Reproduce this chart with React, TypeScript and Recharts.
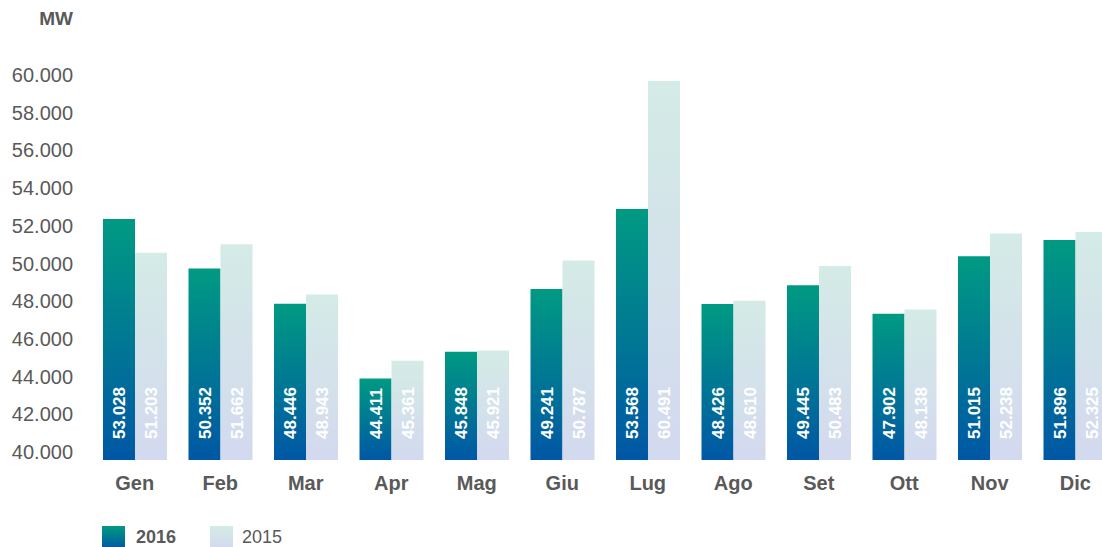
import { BarChart, Bar, XAxis, YAxis, LabelList } from "recharts";

const months = ["Gen", "Feb", "Mar", "Apr", "Mag", "Giu", "Lug", "Ago", "Set", "Ott", "Nov", "Dic"];
const mw2016 = [53028, 50352, 48446, 44411, 45848, 49241, 53568, 48426, 49445, 47902, 51015, 51896];
const mw2015 = [51203, 51662, 48943, 45361, 45921, 50787, 60491, 48610, 50483, 48138, 52238, 52325];
const yTicks = [40000, 42000, 44000, 46000, 48000, 50000, 52000, 54000, 56000, 58000, 60000];

const data = months.map((m, i) => ({ month: m, y2016: mw2016[i], y2015: mw2015[i] }));

const FONT = "'Liberation Sans', Arial, sans-serif";
const GREY = "#595959";

const fmt = (v: number) => String(v).replace(/\B(?=(\d{3})+(?!\d))/g, ".");

const YTick = (props: any) => {
  const { x, y, payload, index } = props;
  // tick labels sit a bit above their value in the original
  const dy = -8 - 0.7 * index + 7;
  return (
    <text x={x} y={y} dy={dy} textAnchor="end" fontSize={20} fill={GREY} fontFamily={FONT}>
      {fmt(payload.value)}
    </text>
  );
};

const XTick = (props: any) => {
  const { x, y, payload } = props;
  return (
    <text x={x} y={y} dy={30} textAnchor="middle" fontSize={20} fontWeight="bold" fill={GREY} fontFamily={FONT}>
      {payload.value}
    </text>
  );
};

const BarText = (props: any) => {
  const { x, y, width, height, value } = props;
  const cx = x + width / 2 + 6;
  const by = y + height - 21;
  return (
    <text
      x={cx}
      y={by}
      transform={`rotate(-90 ${cx} ${by})`}
      textAnchor="start"
      fontSize={17}
      fontWeight="bold"
      fill="#ffffff"
      fontFamily={FONT}
    >
      {fmt(value)}
    </text>
  );
};

const App = () => {
  return (
    <>
      <style>{`body { margin: 0; }`}</style>
      <div style={{ position: "relative", width: 1102, height: 547, overflow: "hidden", fontFamily: FONT }}>
        <div style={{ position: "absolute", left: 8, top: 8 }}>
          <div
            style={{
              position: "absolute",
              left: 0,
              top: 1,
              width: 65,
              textAlign: "right",
              fontSize: 19,
              lineHeight: "20px",
              fontWeight: "bold",
              color: GREY,
            }}
          >
            MW
          </div>
          <BarChart
            width={1110}
            height={539}
            data={data}
            margin={{ top: 45, right: 0, left: 0, bottom: 0 }}
            barGap={0}
          >
            <defs>
              <linearGradient id="g2016" x1="0" y1="0" x2="0" y2="1">
                <stop offset="0%" stopColor="#009a82" />
                <stop offset="100%" stopColor="#0057a5" />
              </linearGradient>
              <linearGradient id="g2015" x1="0" y1="0" x2="0" y2="1">
                <stop offset="0%" stopColor="#d4ebe6" />
                <stop offset="100%" stopColor="#d3d9ef" />
              </linearGradient>
            </defs>
            <XAxis
              dataKey="month"
              height={87}
              axisLine={false}
              tickLine={false}
              tickSize={0}
              tickMargin={0}
              interval={0}
              tick={<XTick />}
            />
            <YAxis
              width={84}
              domain={[40000, 62000]}
              ticks={yTicks}
              allowDataOverflow
              axisLine={false}
              tickLine={false}
              tickSize={0}
              tickMargin={19}
              interval={0}
              tick={<YTick />}
            />
            <Bar dataKey="y2016" fill="url(#g2016)" barSize={32} isAnimationActive={false}>
              <LabelList dataKey="y2016" content={<BarText />} />
            </Bar>
            <Bar dataKey="y2015" fill="url(#g2015)" barSize={32} isAnimationActive={false}>
              <LabelList dataKey="y2015" content={<BarText />} />
            </Bar>
          </BarChart>
          <div style={{ position: "absolute", left: 94, top: 518, width: 23, height: 23, background: "linear-gradient(#009a82, #0057a5)" }} />
          <div style={{ position: "absolute", left: 128, top: 518, lineHeight: "22px", fontSize: 18, fontWeight: "bold", color: GREY }}>
            2016
          </div>
          <div style={{ position: "absolute", left: 202, top: 518, width: 23, height: 23, background: "linear-gradient(#d4ebe6, #d3d9ef)" }} />
          <div style={{ position: "absolute", left: 234, top: 518, lineHeight: "22px", fontSize: 18, color: GREY }}>
            2015
          </div>
        </div>
      </div>
    </>
  );
};

export default App;
